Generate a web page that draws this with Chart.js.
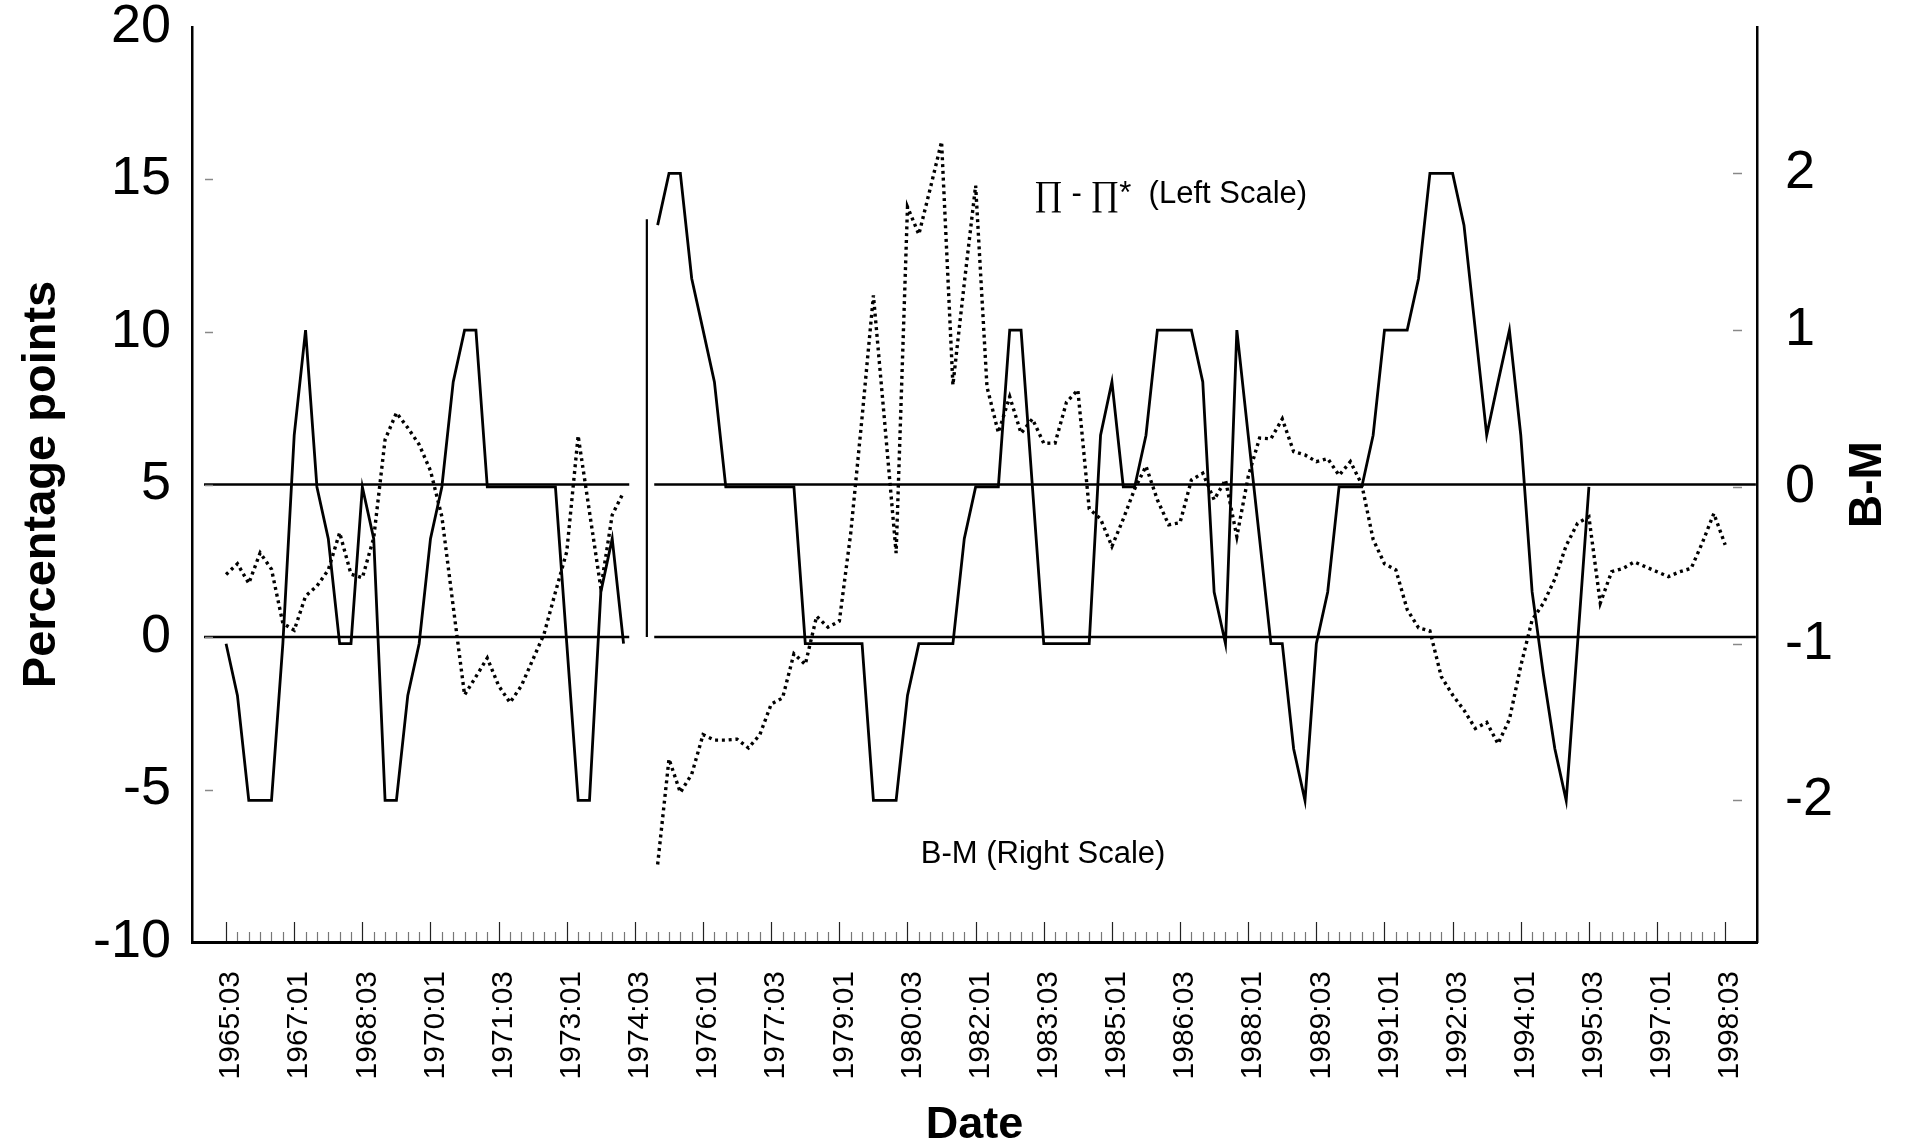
<!DOCTYPE html>
<html>
<head>
<meta charset="utf-8">
<script src="https://cdn.jsdelivr.net/npm/chart.js@4.4.1/dist/chart.umd.min.js"></script>
<style>
html,body{margin:0;padding:0;background:#fff;}
canvas{display:block;}
</style>
</head>
<body>
<canvas id="c" width="1914" height="1146"></canvas>
<script>
// ---------------- data (quarter index 0 = 1965:03) ----------------
const tickLabels = ['1965:03','1967:01','1968:03','1970:01','1971:03','1973:01','1974:03','1976:01',
  '1977:03','1979:01','1980:03','1982:01','1983:03','1985:01','1986:03','1988:01','1989:03',
  '1991:01','1992:03','1994:01','1995:03','1997:01','1998:03'];
const quartersPerLabel = 6;
const leftTicks = [-10, -5, 0, 5, 10, 15, 20];
const rightTicks = [-2, -1, 0, 1, 2];

// first panel: 1965:03 - 1974:02
const panel1Start = 0;
const bmPanel1 = [-1, -1.33, -2, -2, -2, -1, 0.33, 1, 0, -0.33, -1, -1, 0, -0.33, -2, -2, -1.33, -1,
  -0.33, 0, 0.67, 1, 1, 0, 0, 0, 0, 0, 0, 0, -1, -2, -2, -0.67, -0.33, -1];
const gapPanel1 = [2.05, 2.40, 1.76, 2.76, 2.22, 0.45, 0.22, 1.34, 1.67, 2.2, 3.42, 2.06, 1.94, 3.25,
  6.47, 7.35, 6.86, 6.31, 5.45, 3.95, 1.0, -1.9, -1.3, -0.69, -1.6, -2.15, -1.6, -0.75, 0.1, 1.47,
  2.8, 6.6, 4.1, 1.6, 4.0, 4.75];

// second panel: 1975:01 - 1998:03
const panel2Start = 38;
const bmPanel2 = [1.67, 2, 2, 1.33, 1, 0.67, 0, 0, 0, 0, 0, 0, 0, -1, -1, -1, -1, -1, -1, -2, -2, -2,
  -1.33, -1, -1, -1, -1, -0.33, 0, 0, 0, 1, 1, 0, -1, -1, -1, -1, -1, 0.33, 0.67, 0, 0, 0.33, 1, 1,
  1, 1, 0.67, -0.67, -1, 1, 0.33, -0.33, -1, -1, -1.67, -2, -1, -0.67, 0, 0, 0, 0.33, 1, 1, 1, 1.33,
  2, 2, 2, 1.67, 1, 0.33, 0.67, 1, 0.33, -0.67, -1.2, -1.67, -2, -1, 0];
const gapPanel2 = [-7.46, -4.0, -5.1, -4.5, -3.2, -3.38, -3.38, -3.35, -3.64, -3.2, -2.2, -2.0, -0.55,
  -0.9, 0.68, 0.32, 0.52, 3.4, 7.2, 11.2, 7.0, 2.75, 14.1, 13.2, 14.7, 16.24, 8.26, 11.6, 14.8, 8.2,
  6.7, 7.88, 6.68, 7.15, 6.35, 6.36, 7.7, 8.1, 4.2, 3.87, 2.97, 3.87, 4.85, 5.6, 4.5, 3.68, 3.75,
  5.15, 5.37, 4.5, 5.15, 3.29, 5.26, 6.52, 6.5, 7.15, 6.08, 5.97, 5.75, 5.85, 5.3, 5.75, 5.0, 3.2,
  2.4, 2.2, 0.9, 0.3, 0.2, -1.3, -1.9, -2.4, -3.0, -2.8, -3.5, -2.7, -0.95, 0.56, 1.11, 1.9, 3.0,
  3.73, 3.94, 1.11, 2.14, 2.25, 2.46, 2.3, 2.14, 1.98, 2.14, 2.25, 3.1, 4.05, 3.02];

// horizontal reference lines (left scale levels) and their quarter spans
const refLevels = [5, 0];
const refSpans = [[-1.94, 35.5], [37.7, 134.7]];
// short vertical rule at the panel break (quarter, from, to on left scale)
const breakRuleQuarter = 37.05;
const breakRuleRange = [0, 13.7];

// ---------------- build datasets ----------------
const toPoints = (start, values) => values.map((v, k) => ({x: start + k, y: v}));
const solid = {borderColor: '#000', borderWidth: 2.8, pointRadius: 0, fill: false};
const dotted = {borderColor: '#000', borderWidth: 3.4, borderDash: [3, 3.8], pointRadius: 0, fill: false};

const refData = level => {
  const pts = [];
  refSpans.forEach((s, k) => {
    if (k > 0) pts.push({x: (refSpans[k - 1][1] + s[0]) / 2, y: null});
    pts.push({x: s[0], y: level}, {x: s[1], y: level});
  });
  return pts;
};

const datasets = [
  Object.assign({label: 'B-M a', data: toPoints(panel1Start, bmPanel1), yAxisID: 'yR'}, solid),
  Object.assign({label: 'B-M b', data: toPoints(panel2Start, bmPanel2), yAxisID: 'yR'}, solid),
  Object.assign({label: 'gap a', data: toPoints(panel1Start, gapPanel1), yAxisID: 'yL'}, dotted),
  Object.assign({label: 'gap b', data: toPoints(panel2Start, gapPanel2), yAxisID: 'yL'}, dotted),
  ...refLevels.map(l => Object.assign({label: 'ref ' + l, data: refData(l), yAxisID: 'yL', spanGaps: false},
    solid, {borderWidth: 2.6})),
  Object.assign({label: 'break', data: breakRuleRange.map(v => ({x: breakRuleQuarter, y: v})), yAxisID: 'yL'},
    solid, {borderWidth: 2.2})
];

// ---------------- plugins ----------------
const FONT = "'Liberation Sans', Arial, Helvetica, sans-serif";
const SERIF = "'Liberation Serif', 'Times New Roman', serif";

const axisDecor = {
  id: 'axisDecor',
  afterDraw(chart) {
    const {ctx, chartArea: a, scales} = chart;
    const x = scales.x, yL = scales.yL, yR = scales.yR;
    ctx.save();
    // quarterly tick marks pointing up from the date axis
    const lastQ = (tickLabels.length - 1) * quartersPerLabel;
    for (let q = 0; q <= lastQ; q++) {
      const px = Math.round(x.getPixelForValue(q)) + 0.5;
      const major = q % quartersPerLabel === 0;
      ctx.strokeStyle = major ? '#222' : '#777';
      ctx.lineWidth = 1.2;
      ctx.beginPath();
      ctx.moveTo(px, a.bottom - 1);
      ctx.lineTo(px, a.bottom - (major ? 20 : 10));
      ctx.stroke();
    }
    // faint inner tick dashes on both value axes
    ctx.strokeStyle = '#888';
    ctx.lineWidth = 1.5;
    leftTicks.slice(1, -1).forEach(v => {
      const py = Math.round(yL.getPixelForValue(v)) + 0.5;
      ctx.beginPath(); ctx.moveTo(a.left + 13, py); ctx.lineTo(a.left + 21, py); ctx.stroke();
    });
    rightTicks.forEach(v => {
      const py = Math.round(yR.getPixelForValue(v)) + 0.5;
      ctx.beginPath(); ctx.moveTo(a.right - 24, py); ctx.lineTo(a.right - 15, py); ctx.stroke();
    });
    // right axis title, reading bottom to top
    ctx.fillStyle = '#000';
    ctx.font = 'bold 46px ' + FONT;
    ctx.translate(yR.right - 46, (a.top + a.bottom) / 2);
    ctx.rotate(-Math.PI / 2);
    ctx.textAlign = 'center';
    ctx.textBaseline = 'middle';
    ctx.fillText('B-M', 0, 0);
    ctx.restore();
  }
};

// in-plot labels, anchored in data coordinates (quarter, left-scale value)
const labelPi = {q: 71.15, v: 14.23};
const labelBM = {q: 61.17, v: -7.40};
const annotations = {
  id: 'annotations',
  afterDatasetsDraw(chart) {
    const {ctx, scales} = chart;
    const x = scales.x, yL = scales.yL;
    ctx.save();
    ctx.fillStyle = '#000';
    ctx.textAlign = 'left';
    ctx.textBaseline = 'alphabetic';
    let px = x.getPixelForValue(labelPi.q);
    const py = yL.getPixelForValue(labelPi.v);
    const parts = [['\u220F', 'serif'], [' - ', 'sans'], ['\u220F', 'serif'], ['*', 'sans'], ['  (Left Scale)', 'sans']];
    parts.forEach(([t, f]) => {
      ctx.font = f === 'serif' ? '35px ' + SERIF : '31px ' + FONT;
      ctx.fillText(t, px, py + (f === 'serif' ? 2 : 0));
      px += ctx.measureText(t).width;
    });
    ctx.font = '31px ' + FONT;
    ctx.fillText('B-M (Right Scale)', x.getPixelForValue(labelBM.q), yL.getPixelForValue(labelBM.v));
    ctx.restore();
  }
};

// ---------------- chart ----------------
Chart.defaults.font.family = FONT;
Chart.defaults.color = '#000';

const fixPad = s => { s.paddingLeft = 0; s.paddingRight = 0; s.paddingTop = 0; s.paddingBottom = 0; };

new Chart(document.getElementById('c'), {
  type: 'line',
  data: {datasets},
  options: {
    responsive: false,
    animation: false,
    devicePixelRatio: 1,
    layout: {padding: {top: 27, left: 0, right: 0, bottom: 0}},
    plugins: {legend: {display: false}, tooltip: {enabled: false}},
    elements: {line: {tension: 0}, point: {radius: 0}},
    scales: {
      x: {
        type: 'linear', bounds: 'data', min: -3.0, max: 134.8,
        grid: {display: false, drawTicks: false},
        border: {display: true, color: '#000', width: 3},
        afterBuildTicks: s => { s.ticks = tickLabels.map((_, k) => ({value: k * quartersPerLabel})); },
        ticks: {
          autoSkip: false, minRotation: 90, maxRotation: 90, padding: 29, labelOffset: 5, color: '#000',
          font: {size: 30},
          callback: v => tickLabels[Math.round(v / quartersPerLabel)]
        },
        title: {display: true, text: 'Date', color: '#000', font: {size: 45, weight: 'bold', lineHeight: 0.9}, padding: {top: 0, bottom: 0}},
        afterFit: s => { s.height = 204; fixPad(s); }
      },
      yL: {
        type: 'linear', position: 'left', bounds: 'data', min: -10, max: 20,
        grid: {display: false, drawTicks: false},
        border: {display: true, color: '#000', width: 2.5},
        afterBuildTicks: s => { s.ticks = leftTicks.map(v => ({value: v})); },
        ticks: {padding: 21, color: '#000', font: {size: 54}},
        title: {display: true, text: 'Percentage points', color: '#000', font: {size: 47, weight: 'bold'}, padding: {top: 14, bottom: 0}},
        afterFit: s => { s.width = 192; fixPad(s); }
      },
      yR: {
        type: 'linear', position: 'right', bounds: 'data', min: -2.903, max: 2.934,
        grid: {display: false, drawTicks: false},
        border: {display: true, color: '#000', width: 2.5},
        afterBuildTicks: s => { s.ticks = rightTicks.map(v => ({value: v})); },
        ticks: {padding: 28, color: '#000', font: {size: 54}},
        afterFit: s => { s.width = 157; fixPad(s); }
      }
    }
  },
  plugins: [annotations, axisDecor]
});
</script>
</body>
</html>
